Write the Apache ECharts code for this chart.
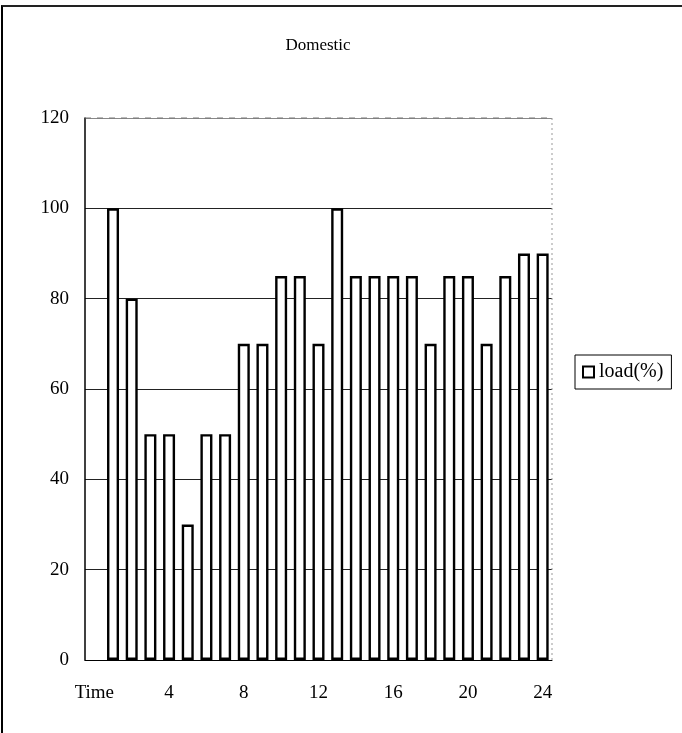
<!DOCTYPE html>
<html>
<head>
<meta charset="utf-8">
<script src="https://cdn.jsdelivr.net/npm/echarts@6/dist/echarts.min.js"></script>
<style>
  html, body { margin: 0; padding: 0; background: #fff; }
  #frame {
    position: absolute; left: 1px; top: 5px; width: 681px; height: 728px;
    border-left: 2px solid #000; border-top: 2px solid #222; box-sizing: border-box;
  }
  #chart { position: absolute; left: 0; top: 0; width: 682px; height: 733px; }
</style>
</head>
<body>
<div id="frame"></div>
<div id="chart"></div>
<script>
// hours of the day, first slot is the axis caption
const categories = ['Time', '1', '2', '3', '4', '5', '6', '7', '8', '9', '10', '11', '12',
  '13', '14', '15', '16', '17', '18', '19', '20', '21', '22', '23', '24'];

const loadValues = [null, 100, 80, 50, 50, 30, 50, 50, 70, 70, 85, 85, 70,
  100, 85, 85, 85, 85, 70, 85, 85, 70, 85, 90, 90];

const yTicks = { min: 0, max: 120, interval: 20 };

const chart = echarts.init(document.getElementById('chart'));
const serif = 'Liberation Serif';

chart.setOption({
  animation: false,
  backgroundColor: 'transparent',
  title: {
    text: 'Domestic',
    left: 313,
    top: 32,
    textAlign: 'center',
    textStyle: { fontFamily: serif, fontSize: 17, fontWeight: 'normal', color: '#000' }
  },
  legend: {
    orient: 'vertical',
    left: 575,
    top: 355,
    data: ['load(%)'],
    icon: 'rect',
    itemWidth: 11,
    itemHeight: 11,
    itemGap: 4,
    padding: [7, 8, 7, 7],
    borderColor: '#000',
    borderWidth: 1,
    textStyle: { fontFamily: serif, fontSize: 20, color: '#000', padding: [0, 0, 0, 0] }
  },
  grid: { left: 85, right: 130, top: 118, bottom: 73, containLabel: false },
  xAxis: {
    type: 'category',
    data: categories,
    axisLine: { show: true, lineStyle: { color: '#000', width: 1 } },
    axisTick: { show: false },
    axisLabel: {
      interval: 3,
      margin: 24,
      fontFamily: serif,
      fontSize: 19,
      color: '#000'
    },
    splitLine: { show: false }
  },
  yAxis: {
    type: 'value',
    min: yTicks.min,
    max: yTicks.max,
    interval: yTicks.interval,
    axisLine: { show: true, lineStyle: { color: '#000', width: 1.5 } },
    axisTick: { show: false },
    axisLabel: { margin: 16, fontFamily: serif, fontSize: 19, color: '#000' },
    splitLine: {
      show: true,
      lineStyle: {
        color: ['#000', '#222', '#222', '#222', '#222', '#222', '#888'],
        width: 1
      }
    }
  },
  series: [{
    name: 'load(%)',
    type: 'bar',
    data: loadValues,
    barWidth: 12,
    itemStyle: { color: '#fff', borderColor: '#000', borderWidth: 2.4 },
    emphasis: { disabled: true }
  }],
  graphic: [{
    type: 'line',
    shape: { x1: 552, y1: 118, x2: 552, y2: 660 },
    style: { stroke: '#999', lineWidth: 1, lineDash: [2, 3] },
    z: 10
  }, {
    type: 'line',
    shape: { x1: 85, y1: 118, x2: 552, y2: 118 },
    style: { stroke: '#777', lineWidth: 1, lineDash: [6, 6] },
    z: 10
  }]
});
</script>
</body>
</html>
